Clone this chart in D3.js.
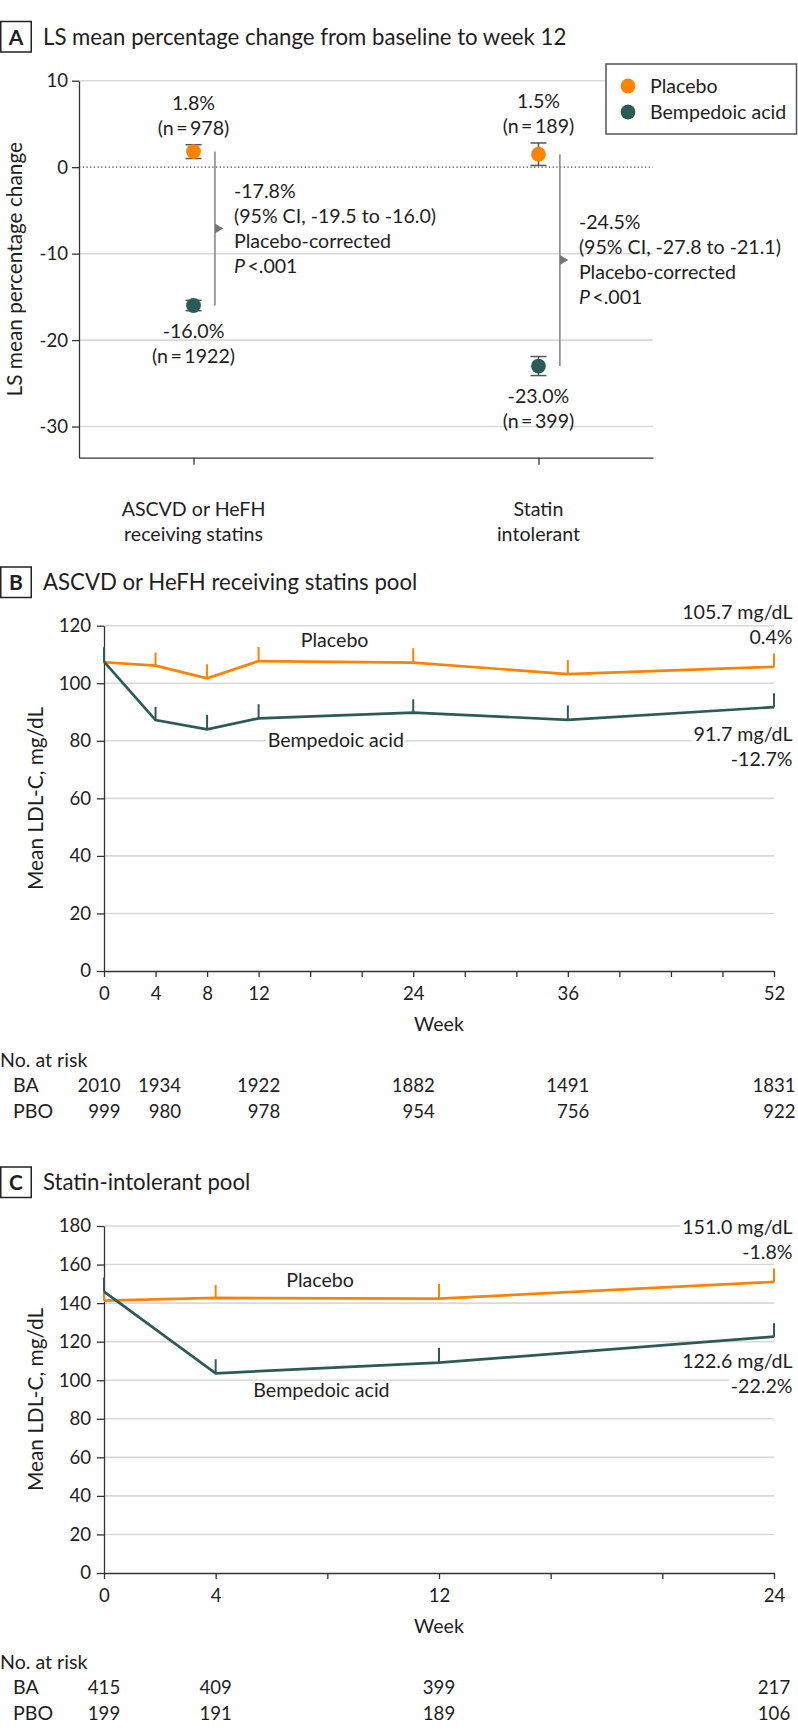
<!DOCTYPE html>
<html><head><meta charset="utf-8">
<script src="https://cdn.jsdelivr.net/npm/d3@7"></script>
<style>
body{margin:0;background:#fff}
svg text{font-family:Lato,"Open Sans",sans-serif;fill:#1e1e1e}
</style>
</head><body>
<svg id="c" width="798" height="1736"></svg>
<script>
// ---------------- DATA ----------------
// Panel A
const groupsA = ["ASCVD or HeFH receiving statins", "Statin intolerant"];
const groupLinesA = [["ASCVD or HeFH", "receiving statins"], ["Statin", "intolerant"]];
const placeboA = [1.8, 1.5];
const placeboCIA = [0.8, 1.3];
const placeboNA = ["978", "189"];
const baA = [-16.0, -23.0];
const baCIA = [0.6, 1.1];
const baNA = ["1922", "399"];
const diffA = ["-17.8%", "-24.5%"];
const diffCIA = ["(95% CI, -19.5 to -16.0)", "(95% CI, -27.8 to -21.1)"];
const ticksA = [10, 0, -10, -20, -30];
const seriesNames = ["Placebo", "Bempedoic acid"];

// Panel B
const weeksB = [0, 4, 8, 12, 24, 36, 52];
const placeboB = [107.3, 106.1, 101.7, 107.7, 107.2, 103.2, 105.7];
const placeboErrB = [4.8, 4.6, 4.9, 4.9, 5.0, 4.9, 4.6];
const baB = [107.5, 87.2, 84.0, 87.8, 89.8, 87.3, 91.7];
const baErrB = [5.0, 4.6, 5.0, 4.9, 4.6, 5.0, 4.8];
const yTicksB = [0, 20, 40, 60, 80, 100, 120];
const xLabelsB = [0, 4, 8, 12, 24, 36, 52];
const riskWeeksB = [0, 4, 12, 24, 36, 52];
const riskBAB = ["2010", "1934", "1922", "1882", "1491", "1831"];
const riskPBOB = ["999", "980", "978", "954", "756", "922"];
const endLabelsB = [["105.7 mg/dL", "0.4%"], ["91.7 mg/dL", "-12.7%"]];

// Panel C
const weeksC = [0, 4, 12, 24];
const placeboC = [141.3, 142.7, 142.3, 151.0];
const placeboErrC = [7.0, 6.7, 7.6, 6.9];
const baC = [146.0, 103.6, 109.1, 122.6];
const baErrC = [7.3, 7.3, 7.8, 6.9];
const yTicksC = [0, 20, 40, 60, 80, 100, 120, 140, 160, 180];
const xLabelsC = [0, 4, 12, 24];
const riskWeeksC = [0, 4, 12, 24];
const riskBAC = ["415", "409", "399", "217"];
const riskPBOC = ["199", "191", "189", "106"];
const endLabelsC = [["151.0 mg/dL", "-1.8%"], ["122.6 mg/dL", "-22.2%"]];

// ---------------- STYLE ----------------
const ORANGE = "#FF8300";
const TEAL = "#2C5A57";
const AXIS = "#333";
const GRID = "#d9d9d9";
const fsBody = 19.6;
const fsNum = 18.6;
const fsTitle = 22.2;
const fsAxisTitle = 20.8;

const svg = d3.select("#c");

function txt(g, x, y, s, fs, anchor) {
  return g.append("text").attr("x", x).attr("y", y).attr("font-size", fs || fsBody)
    .attr("text-anchor", anchor || "start").text(s);
}
function textW(s, fs) {
  const t = svg.append("text").attr("font-size", fs).text(s);
  const w = t.node().getComputedTextLength();
  t.remove();
  return w;
}
function bgText(g, x, y, s, anchor) {
  const t = txt(g, x, y, s, fsBody, anchor);
  const w = t.node().getComputedTextLength();
  const x0 = anchor === "end" ? x - w : (anchor === "middle" ? x - w / 2 : x);
  g.insert("rect", () => t.node()).attr("x", x0 - 2).attr("y", y - 0.75 * fsBody)
    .attr("width", w + 4).attr("height", 0.95 * fsBody).attr("fill", "#fff");
  return t;
}

function header(top, letter, title) {
  const g = svg.append("g");
  g.append("rect").attr("x", 0.75).attr("y", top).attr("width", 30.5).attr("height", 30.5)
    .attr("fill", "#fff").attr("stroke", "#222").attr("stroke-width", 1.5);
  txt(g, 16, top + 23, letter, 21, "middle").attr("font-weight", "bold");
  txt(g, 43, top + 23, title, fsTitle);
}

function styleAxis(sel, fs) {
  sel.attr("color", AXIS);
  sel.selectAll("path.domain").attr("stroke-width", 1.3);
  sel.selectAll(".tick line").attr("stroke-width", 1.3);
  sel.selectAll("text").attr("font-size", fs).attr("font-family", null).attr("fill", "#1e1e1e");
}

// ---------------- PANEL A ----------------
header(21.5, "A", "LS mean percentage change from baseline to week 12");
(function () {
  const g = svg.append("g");
  const L = 79, R = 653, T = 80.7, B = 457.7;
  const x = d3.scalePoint().domain(groupsA).range([L, R]).padding(0.332);
  const y = d3.scaleLinear().domain([-33.6, 10]).range([B, T]);

  g.append("g").selectAll("line").data(ticksA.filter(d => d !== 0)).join("line")
    .attr("x1", L).attr("x2", R).attr("y1", d => y(d)).attr("y2", d => y(d))
    .attr("stroke", GRID).attr("stroke-width", 1.6);
  g.append("line").attr("x1", L).attr("x2", R).attr("y1", y(0)).attr("y2", y(0))
    .attr("stroke", "#444").attr("stroke-width", 1.3).attr("stroke-dasharray", "1.3,2.4");

  const ya = g.append("g").attr("transform", `translate(${L},0)`)
    .call(d3.axisLeft(y).tickValues(ticksA).tickSize(7).tickPadding(4).tickSizeOuter(0));
  styleAxis(ya, fsNum);
  ya.selectAll("text").text(d => String(d));
  const xa = g.append("g").attr("transform", `translate(0,${B})`)
    .call(d3.axisBottom(x).tickSize(7).tickSizeOuter(0).tickFormat(""));
  styleAxis(xa, fsNum);

  groupsA.forEach((cat, i) => {
    const cx = x(cat);
    groupLinesA[i].forEach((s, k) => txt(g, cx, B + 58 + k * 25, s, fsBody, "middle"));
  });

  // y-title
  g.append("text").attr("transform", `translate(21.5,${(T + B) / 2}) rotate(-90)`)
    .attr("text-anchor", "middle").attr("font-size", fsAxisTitle).text("LS mean percentage change");

  // connectors + diff annotations
  groupsA.forEach((cat, i) => {
    const cx = x(cat) + 21.4;
    const y1 = y(placeboA[i]), y2 = y(baA[i]);
    const m = (y1 + y2) / 2;
    g.append("line").attr("x1", cx).attr("x2", cx).attr("y1", y1).attr("y2", y2)
      .attr("stroke", "#8a8a8a").attr("stroke-width", 1.6);
    g.append("path").attr("d", `M${cx},${m - 5}L${cx + 8.5},${m}L${cx},${m + 5}Z`).attr("fill", "#777");
    const tx = cx + 19, ty = m - 31;
    txt(g, tx, ty, diffA[i]);
    txt(g, tx, ty + 25, diffCIA[i]);
    txt(g, tx, ty + 50, "Placebo-corrected");
    const p = txt(g, tx, ty + 75, "");
    p.append("tspan").attr("font-style", "italic").text("P");
    p.append("tspan").text("\u2009<.001");
  });

  // points with CI
  function pts(vals, cis, color) {
    groupsA.forEach((cat, i) => {
      const cx = x(cat), lo = y(vals[i] - cis[i]), hi = y(vals[i] + cis[i]);
      g.append("line").attr("x1", cx).attr("x2", cx).attr("y1", lo).attr("y2", hi).attr("stroke", "#555").attr("stroke-width", 1.5);
      [lo, hi].forEach(yy => g.append("line").attr("x1", cx - 8).attr("x2", cx + 8).attr("y1", yy).attr("y2", yy)
        .attr("stroke", "#555").attr("stroke-width", 1.5));
      g.append("circle").attr("cx", cx).attr("cy", y(vals[i])).attr("r", 7.4).attr("fill", color);
    });
  }
  pts(placeboA, placeboCIA, ORANGE);
  pts(baA, baCIA, TEAL);

  groupsA.forEach((cat, i) => {
    const cx = x(cat);
    const top = y(placeboA[i] + placeboCIA[i]);
    txt(g, cx, top - 35, placeboA[i].toFixed(1) + "%", fsBody, "middle");
    txt(g, cx, top - 10, "(n\u2009=\u2009" + placeboNA[i] + ")", fsBody, "middle");
    const bot = y(baA[i] - baCIA[i]);
    txt(g, cx, bot + 27, baA[i].toFixed(1) + "%", fsBody, "middle");
    txt(g, cx, bot + 52, "(n\u2009=\u2009" + baNA[i] + ")", fsBody, "middle");
  });

  // legend
  const lg = g.append("g");
  lg.append("rect").attr("x", 606).attr("y", 64).attr("width", 190.5).attr("height", 70)
    .attr("fill", "#fff").attr("stroke", "#555").attr("stroke-width", 1.5);
  [ORANGE, TEAL].forEach((c, k) => {
    lg.append("circle").attr("cx", 628).attr("cy", 86 + k * 26).attr("r", 7.4).attr("fill", c);
    txt(lg, 650, 93.3 + k * 26, seriesNames[k]);
  });
})();

// ---------------- LINE PANELS ----------------
function linePanel(o) {
  const g = svg.append("g");
  const L = 104, R = 774;
  const x = d3.scaleLinear().domain([0, o.maxWeek]).range([L, R]);
  const y = d3.scaleLinear().domain([0, o.maxY]).range([o.yBottom, o.yTop]);

  g.append("g").selectAll("line").data(o.yTicks.filter(d => d > 0)).join("line")
    .attr("x1", L).attr("x2", R).attr("y1", d => y(d)).attr("y2", d => y(d))
    .attr("stroke", GRID).attr("stroke-width", 1.6);

  const ya = g.append("g").attr("transform", `translate(${L},0)`)
    .call(d3.axisLeft(y).tickValues(o.yTicks).tickSize(7).tickPadding(6).tickSizeOuter(0));
  styleAxis(ya, fsNum);
  const xa = g.append("g").attr("transform", `translate(0,${o.yBottom})`)
    .call(d3.axisBottom(x).tickValues(d3.range(0, o.maxWeek + 1, 4)).tickSize(6).tickPadding(10).tickSizeOuter(0)
      .tickFormat(d => o.xLabels.includes(d) ? d : ""));
  styleAxis(xa, fsNum);

  txt(g, (L + R) / 2, o.yBottom + 60, "Week", fsBody, "middle");
  g.append("text").attr("transform", `translate(43,${(o.yTop + o.yBottom) / 2}) rotate(-90)`)
    .attr("text-anchor", "middle").attr("font-size", fsAxisTitle).text("Mean LDL-C, mg/dL");

  const line = d3.line().x(d => x(d[0])).y(d => y(d[1]));
  function series(weeks, vals, errs, color) {
    const data = weeks.map((w, i) => [w, vals[i]]);
    g.append("path").datum(data).attr("d", line).attr("fill", "none").attr("stroke", color)
      .attr("stroke-width", 2.7).attr("stroke-linejoin", "miter");
    g.append("g").selectAll("line").data(data).join("line")
      .attr("x1", d => x(d[0])).attr("x2", d => x(d[0]))
      .attr("y1", d => y(d[1])).attr("y2", (d, i) => y(d[1] + errs[i]))
      .attr("stroke", color).attr("stroke-width", 2);
  }
  series(o.weeks, o.placebo, o.placeboErr, ORANGE);
  series(o.weeks, o.ba, o.baErr, TEAL);

  // series labels
  bgText(g, x(o.pLabel[0]), y(o.pLabel[1]), seriesNames[0], "middle");
  bgText(g, x(o.bLabel[0]), y(o.bLabel[1]), seriesNames[1], "start");

  // end labels
  const n = o.weeks.length - 1;
  const pTop = y(o.placebo[n] + o.placeboErr[n]) - 9.5;
  bgText(g, 792.5, pTop - 25, o.endLabels[0][0], "end");
  bgText(g, 792.5, pTop, o.endLabels[0][1], "end");
  const bBase = y(o.ba[n]) + o.baEndDy;
  bgText(g, 792.5, bBase, o.endLabels[1][0], "end");
  bgText(g, 792.5, bBase + 25, o.endLabels[1][1], "end");

  // number at risk
  const y0 = o.yBottom;
  txt(g, 0, y0 + 96, "No. at risk");
  txt(g, 13, y0 + 121, "BA");
  txt(g, 13, y0 + 147, "PBO");
  o.riskWeeks.forEach((w, i) => {
    const maxW = Math.max(textW(o.riskBA[i], fsNum), textW(o.riskPBO[i], fsNum));
    const xr = x(w) + maxW / 2 + (o.riskNudge ? o.riskNudge[i] : 0);
    txt(g, xr, y0 + 121, o.riskBA[i], fsNum, "end");
    txt(g, xr, y0 + 147, o.riskPBO[i], fsNum, "end");
  });
}

header(567, "B", "ASCVD or HeFH receiving statins pool");
linePanel({
  maxWeek: 52, maxY: 120, yTop: 625.7, yBottom: 971,
  yTicks: yTicksB, xLabels: xLabelsB,
  weeks: weeksB, placebo: placeboB, placeboErr: placeboErrB, ba: baB, baErr: baErrB,
  pLabel: [17.9, 112.5], bLabel: [12.7, 77.7],
  endLabels: endLabelsB, baEndDy: 34,
  riskWeeks: riskWeeksB, riskBA: riskBAB, riskPBO: riskPBOB, riskNudge: [-5, 4, 0, 0, 0, 0]
});

header(1167, "C", "Statin-intolerant pool");
linePanel({
  maxWeek: 24, maxY: 180, yTop: 1226, yBottom: 1573,
  yTicks: yTicksC, xLabels: xLabelsC,
  weeks: weeksC, placebo: placeboC, placeboErr: placeboErrC, ba: baC, baErr: baErrC,
  pLabel: [7.74, 148.5], bLabel: [5.35, 91.4],
  endLabels: endLabelsC, baEndDy: 31,
  riskWeeks: riskWeeksC, riskBA: riskBAC, riskPBO: riskPBOC
});
</script>
</body></html>
